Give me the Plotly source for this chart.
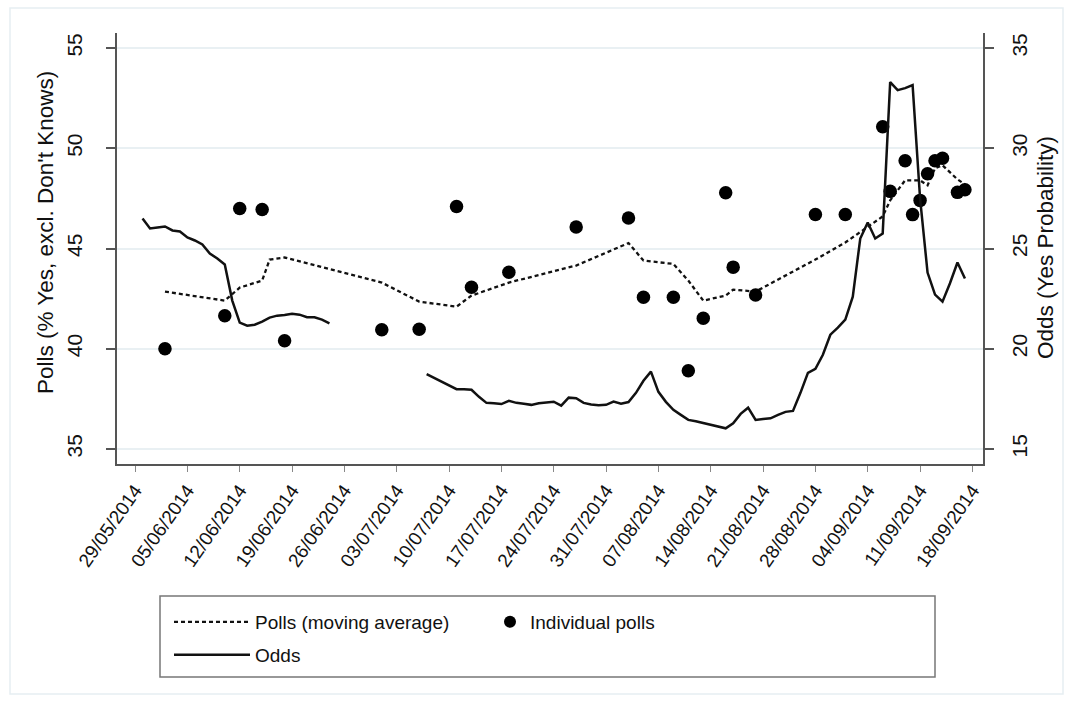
import pandas as pd
import plotly.graph_objects as go

# Individual poll results (% Yes, excluding don't knows)
poll_dates = ["2014-06-02", "2014-06-10", "2014-06-12", "2014-06-15", "2014-06-18",
              "2014-07-01", "2014-07-06", "2014-07-11", "2014-07-13", "2014-07-18",
              "2014-07-27", "2014-08-03", "2014-08-05", "2014-08-09", "2014-08-11",
              "2014-08-13", "2014-08-16", "2014-08-17", "2014-08-20", "2014-08-28",
              "2014-09-01", "2014-09-06", "2014-09-07", "2014-09-09", "2014-09-10",
              "2014-09-11", "2014-09-12", "2014-09-13", "2014-09-14", "2014-09-16",
              "2014-09-17"]
poll_values = [40.0, 41.65, 47.0, 46.95, 40.4,
               40.95, 40.97, 47.1, 43.07, 43.82,
               46.07, 46.52, 42.57, 42.57, 38.9,
               41.52, 47.78, 44.07, 42.68, 46.7,
               46.7, 51.07, 47.85, 49.38, 46.69,
               47.4, 48.73, 49.38, 49.5, 47.8,
               47.93]

# Moving average of the polls
ma_dates = ["2014-06-02", "2014-06-10", "2014-06-12", "2014-06-15", "2014-06-16",
            "2014-06-18", "2014-07-01", "2014-07-06", "2014-07-11", "2014-07-13",
            "2014-07-18", "2014-07-27", "2014-08-03", "2014-08-05", "2014-08-09",
            "2014-08-11", "2014-08-13", "2014-08-16", "2014-08-17", "2014-08-20",
            "2014-08-28", "2014-09-01", "2014-09-06", "2014-09-07", "2014-09-09",
            "2014-09-10", "2014-09-11", "2014-09-12", "2014-09-13", "2014-09-14",
            "2014-09-16", "2014-09-17"]
ma_values = [42.85, 42.4, 43.05, 43.4, 44.45,
             44.55, 43.3, 42.35, 42.1, 42.65,
             43.3, 44.15, 45.27, 44.4, 44.23,
             43.4, 42.4, 42.65, 42.95, 42.85,
             44.45, 45.3, 46.6, 47.4, 48.4,
             48.4, 48.4, 48.15, 49.0, 49.15,
             48.45, 48.2]

# Betting odds, implied Yes probability (%), daily; two periods with a gap between
odds_dates_a = pd.date_range("2014-05-30", "2014-06-24", freq="D")
odds_values_a = [26.5, 26.0, 26.05, 26.1, 25.9, 25.85, 25.55, 25.4, 25.2, 24.75,
                 24.5, 24.2, 22.4, 21.3, 21.15, 21.2, 21.35, 21.55, 21.65, 21.68,
                 21.75, 21.7, 21.57, 21.57, 21.45, 21.27]
odds_dates_b = pd.date_range("2014-07-07", "2014-09-17", freq="D")
odds_values_b = [18.73, 18.55, 18.35, 18.15, 17.98, 17.98, 17.95, 17.6, 17.3, 17.28,
                 17.24, 17.4, 17.3, 17.25, 17.2, 17.28, 17.33, 17.36, 17.16, 17.56,
                 17.53, 17.3, 17.22, 17.18, 17.2,
                 17.36, 17.26, 17.34, 17.8, 18.4, 18.86, 17.85, 17.35, 16.95, 16.7,
                 16.45, 16.38, 16.3, 16.22, 16.12, 16.03, 16.28, 16.75, 17.06, 16.45,
                 16.5, 16.53, 16.7, 16.85, 16.9, 17.8, 18.8, 19.0, 19.7, 20.7, 21.05,
                 21.45, 22.6, 25.5, 26.3, 25.5, 25.75, 33.3, 32.9, 33.0, 33.15,
                 27.5, 23.8, 22.7, 22.35, 23.27, 24.3, 23.5]

odds_x = list(odds_dates_a) + [pd.Timestamp("2014-06-30")] + list(odds_dates_b)
odds_y = odds_values_a + [None] + odds_values_b

week_ticks = pd.date_range("2014-05-29", "2014-09-18", freq="7D")
left_ticks = [35, 40, 45, 50, 55]
right_ticks = [15, 20, 25, 30, 35]

FONT = "Liberation Sans, Arial, sans-serif"
INK = "#111111"
AXIS = "#555555"

# Plot area in pixels (figure is 1075 x 706)
L, R, T, B = 117, 983, 33, 464
W, H = R - L, B - T


def px(x):
    return (x - L) / W


def py(y):
    return (B - y) / H


fig = go.Figure()

fig.add_trace(go.Scatter(
    x=ma_dates, y=ma_values, mode="lines", name="Polls (moving average)",
    line=dict(color=INK, width=2.3, dash="4px,3px"),
    legend="legend", yaxis="y",
))
fig.add_trace(go.Scatter(
    x=poll_dates, y=poll_values, mode="markers", name="Individual polls",
    marker=dict(color="#000000", size=13.5, line=dict(width=0)),
    legend="legend2", yaxis="y",
))
fig.add_trace(go.Scatter(
    x=odds_x, y=odds_y, mode="lines", name="Odds", connectgaps=False,
    line=dict(color=INK, width=2.5),
    legend="legend3", yaxis="y2",
))

legend_common = dict(
    bgcolor="rgba(0,0,0,0)", borderwidth=0, xanchor="left", yanchor="middle",
    font=dict(family=FONT, size=19, color=INK), orientation="v",
)

fig.update_layout(
    width=1075, height=706,
    margin=dict(l=L, r=1075 - R, t=T, b=706 - B, pad=0),
    paper_bgcolor="white", plot_bgcolor="white",
    font=dict(family=FONT, color=INK),
    showlegend=True,
    legend=dict(x=px(169), y=py(622), itemwidth=76, **legend_common),
    legend2=dict(x=px(490), y=py(622), itemsizing="constant", **legend_common),
    legend3=dict(x=px(169), y=py(655), itemwidth=76, **legend_common),
    xaxis=dict(
        range=["2014-05-26 14:00", "2014-09-19 10:00"],
        tickvals=list(week_ticks), tickformat="%d/%m/%Y", tickangle=-55,
        tickfont=dict(family=FONT, size=19, color=INK),
        ticks="outside", ticklen=6, tickcolor="#888888", tickwidth=1,
        showline=True, linecolor=AXIS, linewidth=1.5,
        showgrid=False, zeroline=False,
    ),
    yaxis=dict(
        range=[34.25, 55.75], tickvals=left_ticks, tickangle=-90,
        tickfont=dict(family=FONT, size=21, color=INK),
        ticks="outside", ticklen=9, tickcolor=AXIS, tickwidth=1.5,
        ticklabelstandoff=16,
        showline=True, linecolor=AXIS, linewidth=1.5,
        showgrid=True, gridcolor="#e9f0f3", gridwidth=2, zeroline=False,
    ),
    yaxis2=dict(
        range=[14.25, 35.75], tickvals=right_ticks, tickangle=-90,
        overlaying="y", side="right",
        tickfont=dict(family=FONT, size=21, color=INK),
        ticks="outside", ticklen=9, tickcolor=AXIS, tickwidth=1.5,
        ticklabelstandoff=8,
        showline=True, linecolor=AXIS, linewidth=1.5,
        showgrid=False, zeroline=False,
    ),
    annotations=[
        dict(text="Polls (% Yes, excl. Don't Knows)", textangle=-90,
             x=px(45), y=py(233), xref="paper", yref="paper",
             xanchor="center", yanchor="middle", showarrow=False,
             font=dict(family=FONT, size=22.5, color=INK)),
        dict(text="Odds (Yes Probability)", textangle=-90,
             x=px(1045), y=py(248), xref="paper", yref="paper",
             xanchor="center", yanchor="middle", showarrow=False,
             font=dict(family=FONT, size=22.5, color=INK)),
    ],
    shapes=[
        # legend frame
        dict(type="rect", xref="paper", yref="paper",
             x0=px(160), x1=px(935), y0=py(677), y1=py(596),
             line=dict(color="#777777", width=1.5), fillcolor="rgba(0,0,0,0)"),
        # faint outer frame around the graph region
        dict(type="rect", xref="paper", yref="paper",
             x0=px(10), x1=px(1063), y0=py(694), y1=py(8),
             line=dict(color="#e6eef2", width=1.5), fillcolor="rgba(0,0,0,0)"),
    ],
)

fig.write_html("out.html")
